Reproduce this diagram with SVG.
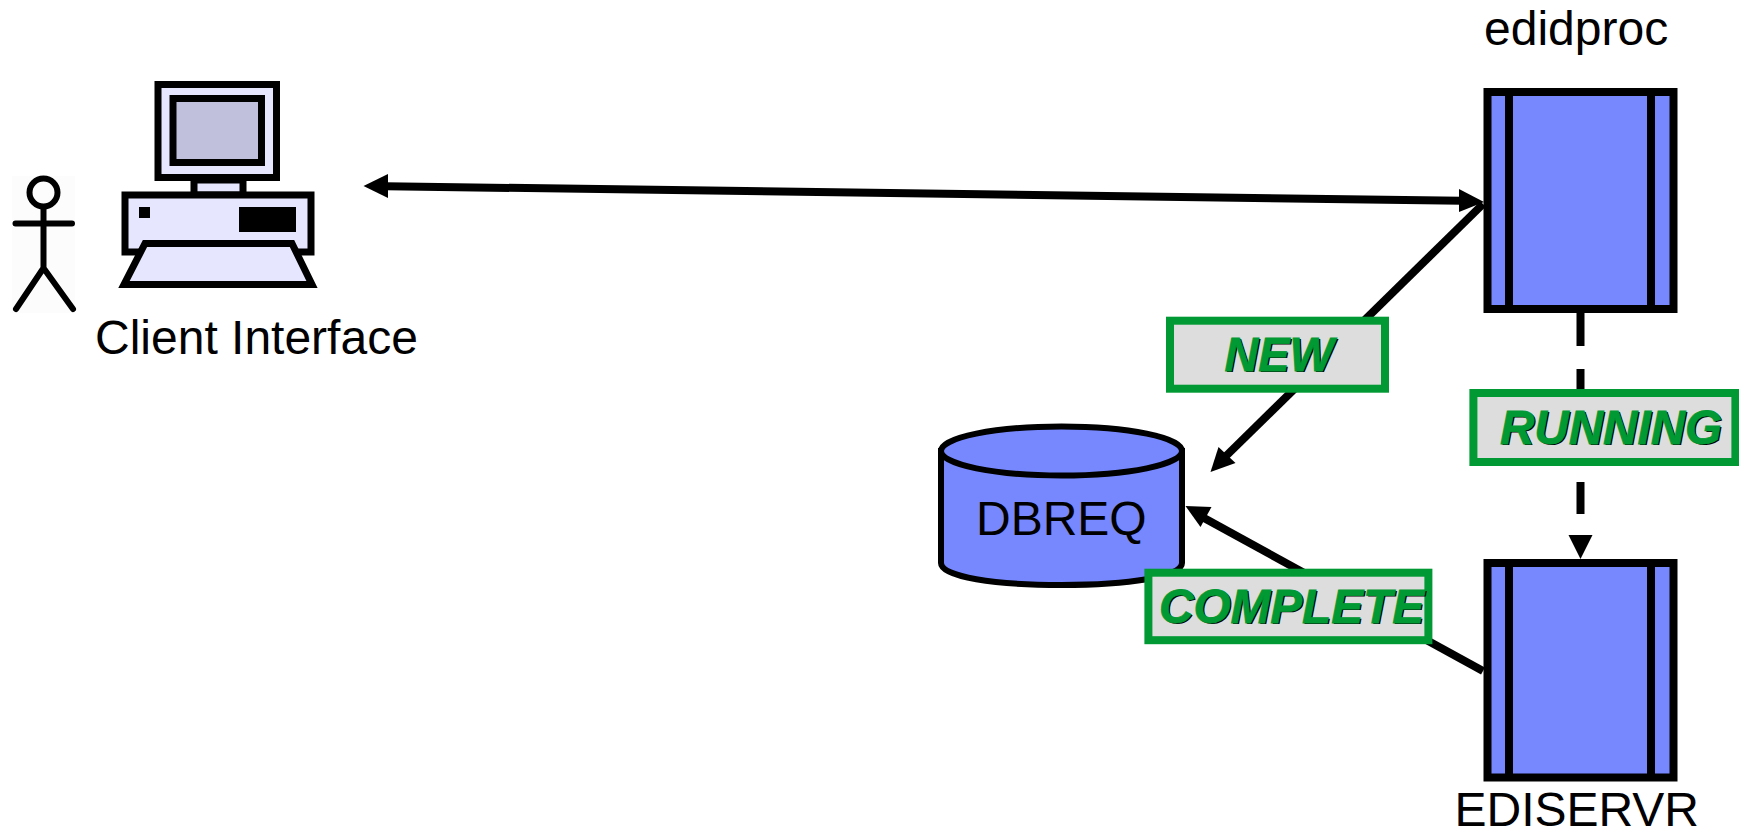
<svg xmlns="http://www.w3.org/2000/svg" width="1739" height="830" viewBox="0 0 1739 830">
<style>
.t{font-family:"Liberation Sans",Arial,sans-serif;font-size:48px;fill:#000}
.b{fill:#7788FF;stroke:#000;stroke-width:8}
.d{fill:none;stroke:#000;stroke-width:8}
.c{fill:#E6E6FF;stroke:#000;stroke-width:7}
.l{fill:#DDDDDD;stroke:#009933;stroke-width:8}
.n{font-family:"Liberation Sans",Arial,sans-serif;font-size:48px;font-weight:bold;font-style:italic}
.k{fill:#000}.g{fill:#009933;stroke:#009933;stroke-width:0.8}
.w{fill:none;stroke:#000;stroke-width:8}
.s{fill:none;stroke:#000;stroke-width:6;stroke-linecap:round}
</style>
<g id="actor">
<rect x="12" y="176" width="63" height="137" fill="#FCFCFC"/>
<circle class="s" cx="43.500" cy="192.500" r="14"/>
<path class="s" d="M15.500 223.500H72M43.500 207V268L16 309M43.500 268L73 309"/>
</g>
<g id="client">
<rect class="c" x="158" y="84.500" width="118.500" height="93"/>
<rect x="173" y="98.500" width="88.500" height="64" fill="#C0C0DD" stroke="#000" stroke-width="7"/>
<rect class="c" x="194" y="180" width="49" height="15" stroke-width="6"/>
<rect class="c" x="125" y="195" width="186" height="57"/>
<rect x="139" y="207" width="11" height="11" fill="#000"/>
<rect x="239" y="207" width="57" height="25" fill="#000"/>
<path class="c" d="M145 243.500H292L312 284.500H124Z"/>
<text class="t" x="95" y="354">Client Interface</text>
</g>
<g id="connectors">
<path d="M386 186.200L1462 200.800" class="w"/>
<path d="M363.500 186L388 174V198Z" class="k"/>
<path d="M1484 202L1459 189V212Z" class="k"/>
<path d="M1483 204L1226 456" class="w"/>
<path d="M1210.500 472L1218.500 447L1235.500 463Z" class="k"/>
<path d="M1483 671L1204 518" class="w"/>
<path d="M1185.500 506L1211.500 507L1200.500 527Z" class="k"/>
<path d="M1580.500 313V346M1580.500 369V392M1580.500 482V514" class="d"/>
<path d="M1580.500 559L1568.500 535H1592.500Z" class="k"/>
</g>
<g id="edidproc">
<text class="t" x="1484" y="45">edidproc</text>
<rect class="b" x="1487.500" y="92" width="186" height="217"/>
<path class="d" d="M1509 92V309M1651 92V309"/>
</g>
<g id="ediservr">
<rect class="b" x="1487.500" y="563" width="186" height="214.500"/>
<path class="d" d="M1509 563V777.500M1651 563V777.500"/>
<text class="t" x="1454.500" y="826">EDISERVR</text>
</g>
<g id="dbreq">
<path d="M941 451V563C941 577 995 585 1061.500 585C1128 585 1182 577 1182 563V451Z" fill="#7788FF" stroke="#000" stroke-width="6"/>
<ellipse cx="1061.500" cy="451" rx="120.500" ry="24.500" fill="#7788FF" stroke="#000" stroke-width="6"/>
<text class="t" x="976" y="535">DBREQ</text>
</g>
<g id="label-new">
<rect class="l" x="1170" y="320.700" width="215" height="68"/>
<text class="n k" x="1226" y="372" textLength="109" lengthAdjust="spacingAndGlyphs">NEW</text><text class="n g" x="1224.500" y="370.500" textLength="109" lengthAdjust="spacingAndGlyphs">NEW</text>
</g>
<g id="label-running">
<rect class="l" x="1473.400" y="393" width="262" height="69"/>
<text class="n k" x="1501.500" y="445" textLength="222" lengthAdjust="spacingAndGlyphs">RUNNING</text><text class="n g" x="1500" y="443.500" textLength="222" lengthAdjust="spacingAndGlyphs">RUNNING</text>
</g>
<g id="label-complete">
<rect class="l" x="1148.400" y="572.700" width="280" height="67.500"/>
<text class="n k" x="1160.500" y="624" textLength="265" lengthAdjust="spacingAndGlyphs">COMPLETE</text><text class="n g" x="1159" y="622.500" textLength="265" lengthAdjust="spacingAndGlyphs">COMPLETE</text>
</g>
</svg>
